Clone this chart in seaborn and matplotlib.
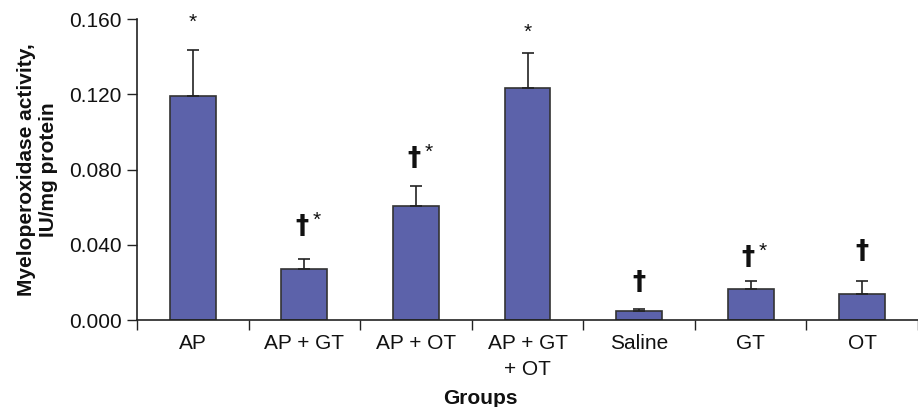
import matplotlib
matplotlib.use("Agg")
import matplotlib.pyplot as plt
import seaborn as sns
import pandas as pd
import numpy as np

groups = ["AP", "AP + GT", "AP + OT", "AP + GT\n+ OT", "Saline", "GT", "OT"]
means = [0.119, 0.027, 0.0608, 0.1235, 0.0046, 0.0163, 0.0138]
err_upper = [0.0245, 0.0054, 0.0104, 0.0183, 0.0012, 0.0044, 0.0069]
marks = ["*", "†*", "†*", "*", "†", "†*", "†"]
mark_y = [0.1583, 0.0494, 0.0858, 0.153, 0.0197, 0.033, 0.0364]
yticks = [0.000, 0.040, 0.080, 0.120, 0.160]

sns.set_theme(style="white")
plt.rcParams['font.family'] = ['Liberation Sans', 'DejaVu Sans']

df = pd.DataFrame({"group": groups, "value": means})

fig = plt.figure(figsize=(9.18, 4.07), dpi=100)
ax = fig.add_axes([137/918, 87/407, 781/918, 301/407])

sns.barplot(data=df, x="group", y="value", ax=ax, color="#5C62AA",
            saturation=1, width=0.41, edgecolor="#333333", linewidth=1.2,
            errorbar=None)

x = np.arange(len(groups))
ax.errorbar(x, means, yerr=[np.zeros(len(means)), err_upper], fmt="none",
            ecolor="#222222", elinewidth=1.2, capsize=4.3, capthick=1.2, zorder=3)

for xi, m, yy in zip(x, marks, mark_y):
    if m.startswith("†"):
        dx = -0.02 if len(m) > 1 else 0.0
        ax.text(xi + dx, yy, "†", ha="center", va="center", fontsize=19,
                fontweight="bold", family=["DejaVu Sans"], color="#111111")
        if len(m) > 1:
            ax.text(xi + dx + 0.13, yy + 0.0035, "*", ha="center", va="center",
                    fontsize=15, color="#111111")
    else:
        ax.text(xi, yy, "*", ha="center", va="center", fontsize=15, color="#111111")

ax.set_xlim(-0.5, -0.5 + 781/113.4)
ax.set_ylim(0, 0.16)
ax.set_yticks(yticks)
ax.set_yticklabels([f"{t:.3f}" for t in yticks], fontsize=15, color="#111111")
ax.set_xticks(x)
ax.set_xticklabels(groups, fontsize=15, linespacing=1.45, color="#111111")
ax.set_xticks(np.arange(len(groups) + 1) - 0.5, minor=True)
ax.tick_params(axis="x", which="major", length=0, pad=10)
ax.tick_params(axis="x", which="minor", length=7, width=1, color="#222222", direction="out", bottom=True)
ax.tick_params(axis="y", length=7, width=1, color="#222222", direction="out", left=True, pad=4)

for s in ["top", "right"]:
    ax.spines[s].set_visible(False)
for s in ["left", "bottom"]:
    ax.spines[s].set_color("#222222")
    ax.spines[s].set_linewidth(1.2)

ax.set_ylabel("Myeloperoxidase activity,\nIU/mg protein", fontsize=15,
              fontweight="bold", labelpad=8, color="#111111", linespacing=1.2)
ax.set_xlabel("")
fig.text(480/918, 1 - 398/407, "Groups", ha="center", va="center",
         fontsize=15, fontweight="bold", color="#111111")

fig.savefig("out.png", dpi=100)
